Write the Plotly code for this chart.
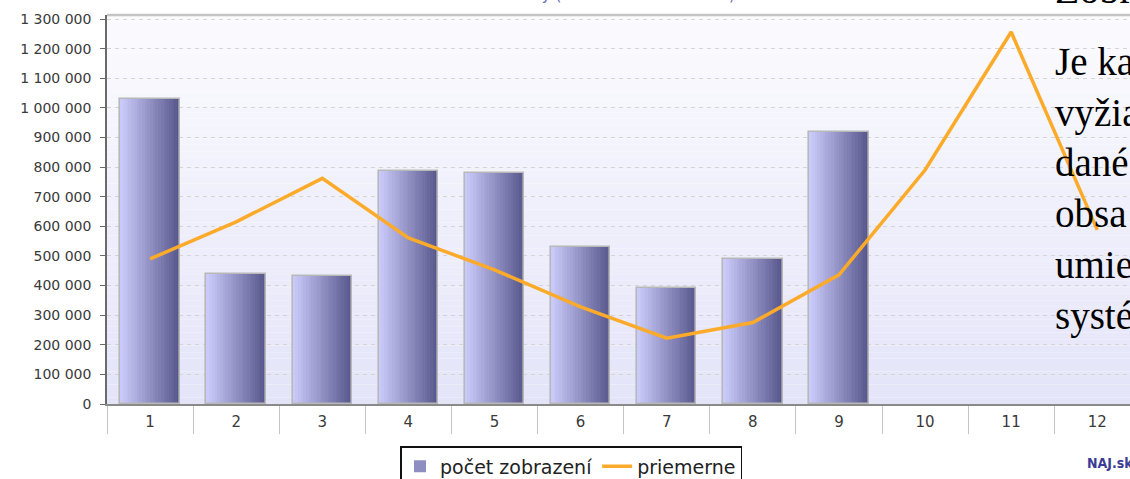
import plotly.graph_objects as go

months = ["1", "2", "3", "4", "5", "6", "7", "8", "9", "10", "11", "12"]
views = [1030000, 440000, 433000, 787000, 780000, 531000, 393000, 489000, 920000, None, None, None]
average = [490000, 615000, 762000, 561000, 453000, 328000, 222000, 275000, 436000, 790000, 1256000, 588000]
y_ticks = list(range(0, 1300001, 100000))
y_tick_text = [f"{v:,}".replace(",", " ") for v in y_ticks]

bar_name = "počet zobrazení"
line_name = "priemerne"
chart_title = "Zobrazenia stránky (1.1.2007 - 31.12.2007)"
side_lines = ["Je ka", "vyžia", "dané", "obsa", "umie", "systé"]
side_title = "Zobrazenia"
watermark = "NAJ.sk"


def lerp(c1, c2, t):
    return "rgb(%d,%d,%d)" % tuple(round(a + (b - a) * t) for a, b in zip(c1, c2))


fig = go.Figure()

W = 0.69
N = 22
light = (202, 202, 250)
dark = (88, 88, 142)
for k in range(N):
    wk = W * (N - k) / N
    fig.add_trace(go.Bar(
        x=months, y=views, width=wk, offset=W / 2 - wk,
        marker=dict(color=lerp(light, dark, k / (N - 1)), line=dict(width=0)),
        name=bar_name, showlegend=(k == N // 2), legendgroup="bars",
        hoverinfo="skip",
    ))
# border
fig.add_trace(go.Bar(
    x=months, y=views, width=W, offset=-W / 2,
    marker=dict(color="rgba(0,0,0,0)", line=dict(color="#b8b8b8", width=1.6)),
    showlegend=False, legendgroup="bars", hoverinfo="skip",
))

fig.add_trace(go.Scatter(
    x=months, y=average, mode="lines", name=line_name,
    line=dict(color="#fcaa2a", width=3.5),
))

# gradient background of plot area
shapes = []
NB = 60
top = (251, 251, 254)
bot = (228, 228, 249)
for i in range(NB):
    shapes.append(dict(
        type="rect", xref="paper", yref="paper", x0=0, x1=1,
        y0=i / NB, y1=(i + 1) / NB, layer="below",
        fillcolor=lerp(bot, top, (i + 0.5) / NB), line=dict(width=0),
    ))
shapes.append(dict(type="line", xref="paper", yref="paper", x0=0, x1=1, y0=1, y1=1,
                   line=dict(color="#c4c4c4", width=2.5)))

annotations = [
    dict(text=chart_title, xref="paper", yref="paper", x=0.453, y=1.0185,
         xanchor="center", yanchor="bottom", showarrow=False, yshift=2,
         font=dict(family="DejaVu Sans", size=15, color="#6464b8")),
    dict(text="<br>".join(side_lines), xref="paper", yref="paper", x=0.925, y=0.94,
         xanchor="left", yanchor="top", align="left", showarrow=False,
         font=dict(family="Liberation Serif", size=39, color="#000000")),
    dict(text=side_title, xref="paper", yref="paper", x=0.925, y=1.0,
         xanchor="left", yanchor="bottom", showarrow=False, yshift=1,
         font=dict(family="Liberation Serif", size=40, color="#000000")),
    dict(text="<b>" + watermark + "</b>", xref="paper", yref="paper", x=0.956, y=-0.125,
         xanchor="left", yanchor="top", showarrow=False,
         font=dict(family="DejaVu Sans Condensed", size=14, color="#3c3c96")),
]

fig.update_layout(
    width=1130, height=479,
    margin=dict(l=107, r=0, t=15, b=75, autoexpand=False),
    paper_bgcolor="white", plot_bgcolor="rgba(0,0,0,0)",
    barmode="overlay", bargap=0,
    shapes=shapes, annotations=annotations,
    font=dict(family="DejaVu Sans", color="#333333"),
    legend=dict(orientation="h", xref="container", yref="container",
                x=400 / 1130, y=1 - 446 / 479, xanchor="left", yanchor="top",
                bgcolor="white", bordercolor="#111111", borderwidth=1.5,
                font=dict(family="DejaVu Sans", size=19, color="#222222"),
                itemwidth=30, tracegroupgap=0),
    showlegend=True,
)
fig.update_xaxes(type="category", range=[-0.5, 11.38], showgrid=False,
                 showline=True, linecolor="#8a8a8a", linewidth=1.5,
                 ticks="outside", tickson="boundaries", ticklen=28,
                 tickcolor="#c4c4c4", tickwidth=1.2, ticklabelstandoff=3,
                 tickfont=dict(size=15, color="#3a3a3a"))
fig.update_yaxes(range=[0, 1313500], tickvals=y_ticks, ticktext=y_tick_text,
                 showgrid=True, gridcolor="#d4d4d4", griddash="4px,4px", gridwidth=1,
                 showline=True, linecolor="#6a6a6a", linewidth=1.5,
                 ticks="outside", ticklen=5, tickcolor="#6a6a6a", ticklabelstandoff=6,
                 zeroline=False, automargin=False,
                 tickfont=dict(size=14, color="#3a3a3a"))

fig.write_html("out.html", config={"displayModeBar": False},
               post_script="document.body.style.margin='0';document.body.style.overflow='hidden';")
